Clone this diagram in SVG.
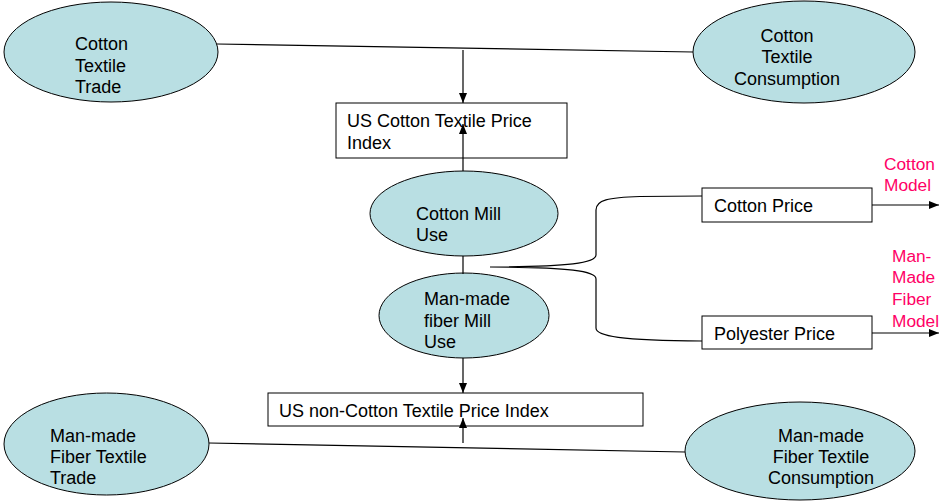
<svg xmlns="http://www.w3.org/2000/svg" width="940" height="501" viewBox="0 0 940 501">
<defs>
<style>
.ell{fill:#B9DFE3;stroke:#000;stroke-width:1}
.box{fill:#fff;stroke:#000;stroke-width:1}
text{font-family:"Liberation Sans",Arial,sans-serif;font-size:18px;fill:#000}
.pink{fill:#FF0066}
.sm{font-size:17.3px}
.c{text-anchor:middle}
.ln{fill:none;stroke:#000;stroke-width:1.2}
</style>
<marker id="arr" markerUnits="userSpaceOnUse" markerWidth="10" markerHeight="8" refX="10" refY="4" orient="auto">
<path d="M0,0 L10,4 L0,8 z" fill="#000"/>
</marker>
</defs>
<rect width="940" height="501" fill="#fff"/>

<g id="cotton-textile-trade">
<ellipse class="ell" cx="111" cy="52" rx="107" ry="50"/>
<text x="75" y="50">Cotton</text>
<text x="75" y="72">Textile</text>
<text x="75" y="93">Trade</text>
</g>

<g id="cotton-textile-consumption">
<ellipse class="ell" cx="804" cy="52" rx="111" ry="51"/>
<text class="c" x="787" y="42">Cotton</text>
<text class="c" x="787" y="63">Textile</text>
<text class="c" x="787" y="85">Consumption</text>
</g>

<g id="us-cotton-textile-price-index">
<rect class="box" x="336" y="103" width="231" height="55"/>
<text x="347" y="127">US Cotton Textile Price</text>
<text x="347" y="149">Index</text>
</g>

<g id="cotton-mill-use">
<ellipse class="ell" cx="464" cy="213.5" rx="94" ry="42.5"/>
<text x="416" y="220">Cotton Mill</text>
<text x="416" y="241">Use</text>
</g>

<g id="man-made-fiber-mill-use">
<ellipse class="ell" cx="464" cy="315.5" rx="85" ry="42.5"/>
<text x="424" y="305">Man-made</text>
<text x="424" y="327">fiber Mill</text>
<text x="424" y="348">Use</text>
</g>

<g id="us-non-cotton-textile-price-index">
<rect class="box" x="268" y="393" width="375" height="33"/>
<text x="279" y="417">US non-Cotton Textile Price Index</text>
</g>

<g id="man-made-fiber-textile-trade">
<ellipse class="ell" cx="106.5" cy="444" rx="102.5" ry="51"/>
<text x="50" y="442">Man-made</text>
<text x="50" y="463">Fiber Textile</text>
<text x="50" y="484">Trade</text>
</g>

<g id="man-made-fiber-textile-consumption">
<ellipse class="ell" cx="800" cy="451" rx="115" ry="49"/>
<text class="c" x="821" y="442">Man-made</text>
<text class="c" x="821" y="463">Fiber Textile</text>
<text class="c" x="821" y="484">Consumption</text>
</g>

<g id="cotton-price">
<rect class="box" x="702" y="188" width="170" height="34"/>
<text x="714" y="212">Cotton Price</text>
</g>

<g id="polyester-price">
<rect class="box" x="702" y="316" width="170" height="33"/>
<text x="714" y="340">Polyester Price</text>
</g>

<g id="cotton-model">
<text class="pink sm" x="884" y="170">Cotton</text>
<text class="pink sm" x="884" y="191">Model</text>
</g>

<g id="man-made-fiber-model">
<text class="pink sm" x="892" y="262">Man-</text>
<text class="pink sm" x="892" y="283">Made</text>
<text class="pink sm" x="892" y="305">Fiber</text>
<text class="pink sm" x="892" y="327">Model</text>
</g>

<g id="connectors">
<path class="ln" d="M217 44 L693 52"/>
<path class="ln" d="M463 50 L463 103" marker-end="url(#arr)"/>
<path class="ln" d="M463 171 L463 124" marker-end="url(#arr)"/>
<path class="ln" d="M463 256 L463 274"/>
<path class="ln" d="M463 358 L463 393" marker-end="url(#arr)"/>
<path class="ln" d="M463 443 L463 418" marker-end="url(#arr)"/>
<path class="ln" d="M209 443 L685 452"/>
<path class="ln" d="M702 196 L640 196.5 C608 197.5 596 200 596 210 L596 255 C596 263 570 266.5 490 267 C570 267.5 596 271 596 279 L596 328 C596 336 620 340.5 702 341"/>
<path class="ln" d="M872 205 L939 205" marker-end="url(#arr)"/>
<path class="ln" d="M872 333 L939 333" marker-end="url(#arr)"/>
</g>
</svg>
